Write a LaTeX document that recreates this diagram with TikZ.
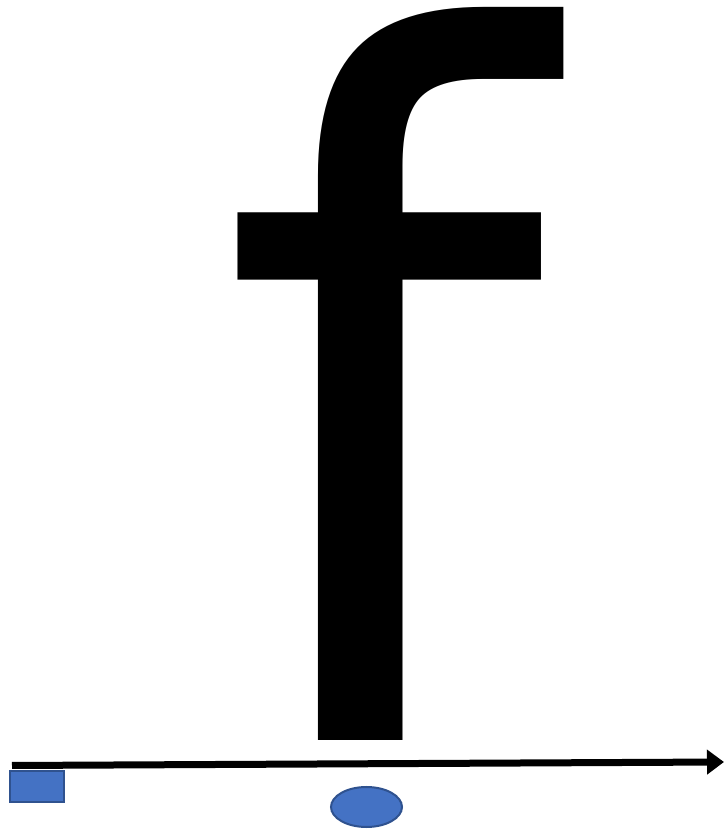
\documentclass[tikz,border=0pt]{standalone}
\usepackage{fontspec}
\newfontfamily\ffont{DejaVu Sans}
\usetikzlibrary{arrows.meta,shapes.geometric}
\definecolor{shapefill}{HTML}{4472C4}
\definecolor{shapeedge}{HTML}{2F528F}
\tikzset{
  bluebox/.style={draw=shapeedge,fill=shapefill,line width=2pt,inner sep=0pt},
  axis/.style={line width=7pt,-{Triangle[length=17pt,width=24pt]}},
  bigletter/.style={inner sep=0pt,anchor=base west,xscale=0.97,font=\ffont\fontsize{965}{965}\selectfont}
}
\begin{document}
\begin{tikzpicture}[x=1pt,y=1pt]
\useasboundingbox (0,0) rectangle (724,831);
\node[bigletter] (f) at (216,90) {f\kern0.07em};
\coordinate (a0) at (12,65.5);
\coordinate (a1) at (724,69);
\draw[axis] (a0) -- (a1);
\node[bluebox,rectangle,minimum width=54pt,minimum height=31pt] (sq) at (37,44.5) {};
\node[bluebox,ellipse,minimum width=71pt,minimum height=40pt] (el) at (366.5,24) {};
\end{tikzpicture}
\end{document}
